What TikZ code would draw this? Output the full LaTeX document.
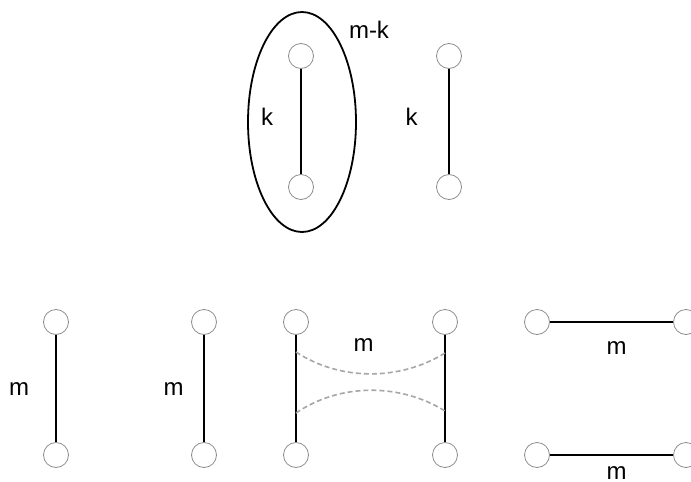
\documentclass[tikz,border=0pt]{standalone}
\usepackage{fontspec}
\setmainfont{Liberation Sans}
\usetikzlibrary{shapes.geometric}
\newcommand{\lblfont}{\fontsize{24pt}{28pt}\selectfont}
\begin{document}
\begin{tikzpicture}[x=1pt,y=-1pt,
  vtx/.style={circle,draw=black!45,line width=0.8pt,minimum size=25pt,inner sep=0pt},
  edge/.style={line width=1.8pt,black},
  lbl/.style={font=\lblfont,inner sep=0pt},
  dsh/.style={draw=black!35,line width=1.6pt,dash pattern=on 5pt off 3pt}]
\useasboundingbox (0,0) rectangle (691,482);
% top
\node[vtx] (t1) at (301,56) {};
\node[vtx] (t2) at (301,187) {};
\node[vtx] (t3) at (449,56) {};
\node[vtx] (t4) at (449,187) {};
\draw[edge] (t1) -- (t2);
\draw[edge] (t3) -- (t4);
\node[ellipse,draw,line width=1.8pt,minimum width=108pt,minimum height=220pt,inner sep=0pt] (ell) at (302,122) {};
\node[lbl] (lmk) at (369,30) {m-k};
\node[lbl] (lk1) at (267,117) {k};
\node[lbl] (lk2) at (411.5,117) {k};
% bottom
\node[vtx] (a1) at (56,322) {};
\node[vtx] (a2) at (56,455) {};
\node[vtx] (b1) at (204,322) {};
\node[vtx] (b2) at (204,455) {};
\node[vtx] (c1) at (296,322) {};
\node[vtx] (c2) at (296,455) {};
\node[vtx] (c3) at (445,322) {};
\node[vtx] (c4) at (445,455) {};
\node[vtx] (d1) at (537,322) {};
\node[vtx] (d2) at (686,322) {};
\node[vtx] (d3) at (537,455) {};
\node[vtx] (d4) at (686,455) {};
\draw[edge] (a1) -- (a2);
\draw[edge] (b1) -- (b2);
\draw[edge] (c1) -- (c2);
\draw[edge] (c3) -- (c4);
\draw[edge] (d1) -- (d2);
\draw[edge] (d3) -- (d4);
\node[lbl] (la) at (19,389.5) {m};
\node[lbl] (lb) at (173.5,389.5) {m};
\node[lbl] (lc) at (363.5,345) {m};
\node[lbl] (ld) at (616.5,348.5) {m};
\node[lbl] (le) at (616.5,473.5) {m};
\coordinate (p1) at (296,352);
\coordinate (p2) at (445,353);
\coordinate (q1) at (296,413);
\coordinate (q2) at (445,411);
\draw[dsh] (p1) .. controls (340,381) and (400,381) .. (p2);
\draw[dsh] (q1) .. controls (340,383) and (400,383) .. (q2);
\end{tikzpicture}
\end{document}
